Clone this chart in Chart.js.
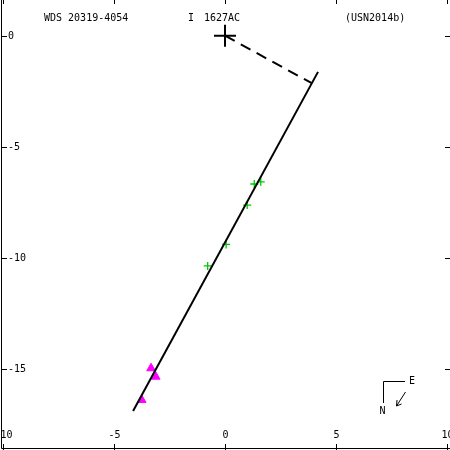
<!DOCTYPE html>
<html>
<head>
<meta charset="utf-8">
<script src="https://cdn.jsdelivr.net/npm/chart.js@4"></script>
<style>
  html, body { margin: 0; padding: 0; background: #fff; }
  #wrap { width: 450px; height: 450px; }
</style>
</head>
<body>
<div id="wrap"><canvas id="c" width="450" height="450"></canvas></div>
<script>
// title pieces
var titleName = "WDS 20319-4054";
var titleDisc = "I";
var titleComp = "1627AC";
var titleRef = "(USN2014b)";

// axis ticks
var xTicks = [-10, -5, 0, 5, 10];
var yTicks = [0, -5, -10, -15];

// data (arcsec)
var primaryX = [0];
var primaryY = [0];
var fitX = [4.19, -4.14];
var fitY = [-1.63, -16.91];
var nodeX = [0, 3.91];
var nodeY = [0, -2.14];
var greenX = [1.61, 1.32, 1.00, 0.05, -0.78];
var greenY = [-6.58, -6.68, -7.63, -9.40, -10.37];
var magX = [-3.33, -3.12, -3.75];
var magY = [-14.98, -15.36, -16.41];

function pts(xs, ys) {
  return xs.map(function (x, i) { return { x: x, y: ys[i] }; });
}

var FONT = "10px 'DejaVu Sans Mono', monospace";

// frame, ticks, labels, title and compass
var framePlugin = {
  id: "frame",
  afterDraw: function (chart) {
    var ctx = chart.ctx;
    var xs = chart.scales.x;
    var ys = chart.scales.y;
    var W = chart.width, H = chart.height;
    ctx.save();
    ctx.strokeStyle = "#000";
    ctx.fillStyle = "#000";
    ctx.lineWidth = 1;
    ctx.font = FONT;

    // left and bottom axis lines
    ctx.beginPath();
    ctx.moveTo(1.5, 0);
    ctx.lineTo(1.5, H - 1.5);
    ctx.lineTo(W, H - 1.5);
    ctx.stroke();

    // x ticks top and bottom
    ctx.textAlign = "center";
    ctx.textBaseline = "middle";
    xTicks.forEach(function (v) {
      var px = Math.round(xs.getPixelForValue(v)) + 0.5;
      ctx.beginPath();
      ctx.moveTo(px, 0);
      ctx.lineTo(px, 4);
      ctx.moveTo(px, H);
      ctx.lineTo(px, H - 6);
      ctx.stroke();
      ctx.fillText(String(v), px, H - 15);
    });

    // y ticks left and right
    ctx.textAlign = "left";
    yTicks.forEach(function (v) {
      var py = Math.round(ys.getPixelForValue(v)) + 0.5;
      ctx.beginPath();
      ctx.moveTo(1, py);
      ctx.lineTo(7, py);
      ctx.moveTo(W, py);
      ctx.lineTo(W - 5, py);
      ctx.stroke();
      ctx.fillText(String(v), 8, py);
    });

    // title
    ctx.fillText(titleName, 44, 18);
    ctx.fillText(titleDisc, 188, 18);
    ctx.fillText(titleComp, 204, 18);
    ctx.fillText(titleRef, 345, 18);

    // compass
    ctx.beginPath();
    ctx.moveTo(405, 381.5);
    ctx.lineTo(383.5, 381.5);
    ctx.lineTo(383.5, 403);
    ctx.stroke();
    ctx.fillText("E", 409, 381);
    ctx.textAlign = "center";
    ctx.fillText("N", 382.5, 411);
    ctx.beginPath();
    ctx.moveTo(405.5, 392);
    ctx.lineTo(396.5, 406);
    ctx.moveTo(396.5, 406);
    ctx.lineTo(397, 400);
    ctx.moveTo(396.5, 406);
    ctx.lineTo(401.5, 404);
    ctx.stroke();
    ctx.restore();
  }
};

new Chart(document.getElementById("c"), {
  type: "scatter",
  data: {
    datasets: [
      {
        type: "line",
        data: pts(fitX, fitY),
        borderColor: "#000",
        borderWidth: 2,
        pointRadius: 0,
        fill: false
      },
      {
        type: "line",
        data: pts(nodeX, nodeY),
        borderColor: "#000",
        borderWidth: 2,
        borderDash: [11, 7],
        pointRadius: 0,
        fill: false
      },
      {
        data: pts(greenX, greenY),
        pointStyle: "cross",
        pointRadius: 4,
        borderColor: "#00c800",
        borderWidth: 1.3
      },
      {
        data: pts(magX, magY),
        pointStyle: "triangle",
        pointRadius: 5,
        backgroundColor: "#ff00ff",
        borderColor: "#ff00ff",
        borderWidth: 1
      },
      {
        data: pts(primaryX, primaryY),
        pointStyle: "cross",
        pointRadius: 11,
        borderColor: "#000",
        borderWidth: 2
      }
    ]
  },
  options: {
    responsive: false,
    animation: false,
    layout: { padding: 0, autoPadding: false },
    plugins: { legend: { display: false }, tooltip: { enabled: false } },
    scales: {
      x: { type: "linear", display: false, min: -225 / 22.2, max: 225 / 22.2 },
      y: { type: "linear", display: false, min: -(450 - 35.7) / 22.2, max: 35.7 / 22.2 }
    }
  },
  plugins: [framePlugin]
});
</script>
</body>
</html>
